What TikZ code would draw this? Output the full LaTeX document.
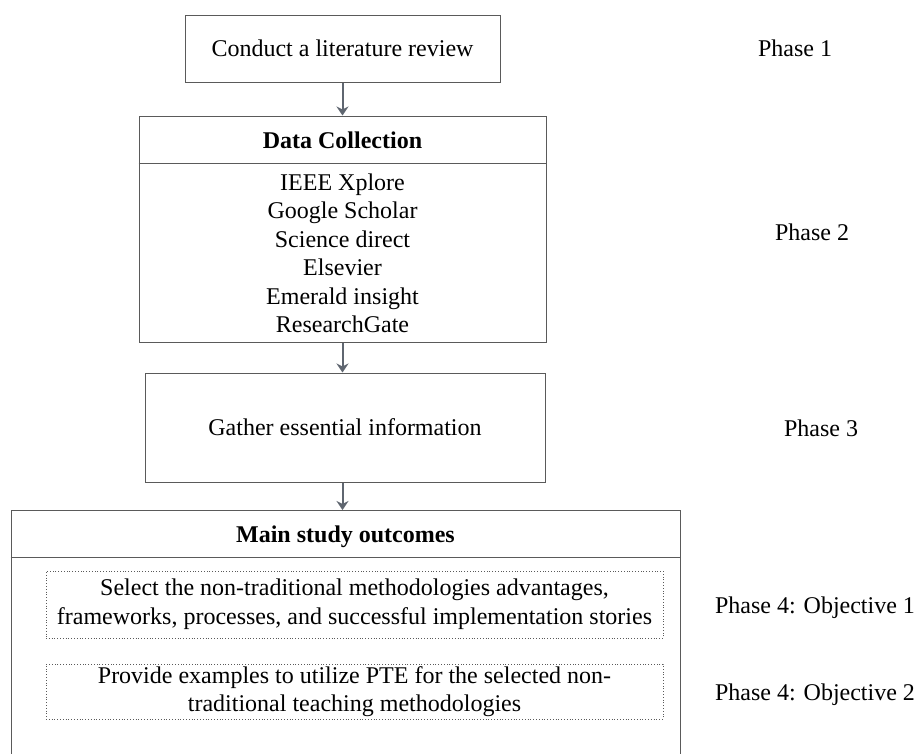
\documentclass[tikz,border=0pt]{standalone}
\usepackage{fontspec}
\setmainfont{Liberation Serif}
\usetikzlibrary{arrows.meta}
\definecolor{boxline}{HTML}{5A5A5A}
\definecolor{arrowgray}{HTML}{5F6670}
\begin{document}
\begin{tikzpicture}[x=1pt,y=-1pt,
  every node/.style={font=\fontsize{24}{25}\selectfont, inner sep=0pt},
  frame/.style={draw=boxline, line width=1pt, rectangle},
  dotbox/.style={draw=boxline, line width=0.8pt, dotted, rectangle},
  item/.style={text height=16pt, text depth=0pt},
  flow/.style={draw=arrowgray, line width=2pt, -{Stealth[length=9pt,width=12pt,inset=3pt]}},
  phase/.style={anchor=center, item}]
\useasboundingbox (0,0) rectangle (916,753);

% Phase 1
\node[frame, minimum width=315pt, minimum height=67pt] (review) at (342.5,48.5) {Conduct a literature review};

% Phase 2: data collection sources
\node[frame, minimum width=407pt, minimum height=226pt] (collect) at (342.5,229) {};
\draw[boxline, line width=1pt] (collect.west |- 0,163) -- (collect.east |- 0,163);
\node[item, font=\fontsize{24}{25}\selectfont\bfseries] (collecthead) at (342.5,140) {Data Collection};
\node[item] (s1) at (342.5,182) {IEEE Xplore};
\node[item] (s2) at (342.5,210.5) {Google Scholar};
\node[item] (s3) at (342.5,239) {Science direct};
\node[item] (s4) at (342.5,267.5) {Elsevier};
\node[item] (s5) at (342.5,296) {Emerald insight};
\node[item] (s6) at (342.5,324.5) {ResearchGate};

% Phase 3
\node[frame, minimum width=400pt, minimum height=109pt] (gather) at (345,427.5) {Gather essential information};

% Phase 4: outcomes (box runs past the lower edge)
\node[frame, minimum width=669pt, minimum height=270pt, anchor=north] (outcomes) at (345.5,510) {};
\draw[boxline, line width=1pt] (outcomes.west |- 0,557) -- (outcomes.east |- 0,557);
\node[item, font=\fontsize{24}{25}\selectfont\bfseries] (outhead) at (345.5,534) {Main study outcomes};
\node[dotbox, minimum width=617pt, minimum height=67pt, align=center] (obj1) at (354.5,604.5)
  {Select the non-traditional methodologies advantages,\\[4pt]frameworks, processes, and successful implementation stories};
\node[dotbox, minimum width=617pt, minimum height=55pt, align=center] (obj2) at (354.5,691.5)
  {Provide examples to utilize PTE for the selected non-\\[3pt]traditional teaching methodologies};

% connectors
\draw[flow] (review.south) -- (collect.north);
\draw[flow] (collect.south) -- (collect.south |- gather.north);
\draw[flow] (gather.south -| collect.south) -- (collect.south |- outcomes.north);

% phase labels
\node[phase] (p1) at (795,48) {Phase 1};
\node[phase] (p2) at (812,232) {Phase 2};
\node[phase] (p3) at (821,428) {Phase 3};
\node[phase] (p4a) at (815,605) {Phase 4: Objective 1};
\node[phase] (p4b) at (815,692) {Phase 4: Objective 2};
\end{tikzpicture}
\end{document}
